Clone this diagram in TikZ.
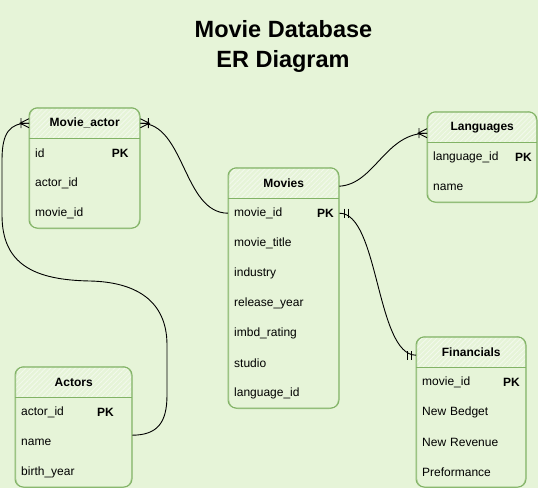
\documentclass[tikz,border=0pt]{standalone}
\usepackage{fontspec}
\setmainfont{Liberation Sans}
\usetikzlibrary{patterns.meta,calc}
\definecolor{bg}{RGB}{230,244,216}
\definecolor{grn}{HTML}{82B366}
\definecolor{hatch}{RGB}{243,249,237}
\tikzset{
 hdr/.style={minimum height=30pt, inner sep=0pt, anchor=north west, font=\fontsize{12}{14}\selectfont\bfseries},
 erow/.style={text width=#1, inner xsep=6pt, inner ysep=0pt, minimum height=30pt, align=left, anchor=north west, font=\fontsize{12}{14}\selectfont},
 pk/.style={anchor=west, inner sep=0pt, font=\fontsize{12}{14}\selectfont\bfseries},
 ttl/.style={anchor=base, inner sep=0pt, font=\fontsize{23.5}{28}\selectfont\bfseries},
 tframe/.style={draw=grn, line width=1pt, rounded corners=8pt},
 tframeb/.style={draw=grn, line width=0.6pt, rounded corners=9pt, opacity=0.75},
 hfill/.style={pattern={Lines[angle=45,distance=3.5pt,line width=0.8pt]}, pattern color=hatch},
 hsep/.style={draw=grn, line width=1pt},
 conn/.style={draw=black, line width=0.9pt},
 cfoot/.pic={\draw[line width=0.9pt] (0,-4.5) -- (9,0) -- (0,4.5) (0,0) -- (9,0) (8,-5) -- (8,5);},
 mone/.pic={\draw[line width=0.9pt] (5,-4.5) -- (5,4.5) (9,-4.5) -- (9,4.5);},
}
\begin{document}
\begin{tikzpicture}[x=1pt,y=-1pt]
\useasboundingbox (0,0) rectangle (538,488);
\fill[bg] (0,0) rectangle (538,488);

% title
\node[ttl] (t1) at (283.5,37.7) {Movie Database};
\node[ttl] (t2) at (283,67.7) {ER Diagram};

% ---------- Movie_actor ----------
\begin{scope}
\clip[rounded corners=8pt] (29,108) rectangle (140,228);
\fill[hfill] (29,108) rectangle (140,138);
\end{scope}
\draw[tframe] (29,108) rectangle (140,228);
\draw[tframeb] (29.8,107.3) rectangle (139.3,228.7);
\draw[hsep] (29,138) -- (140,138);
\node[hdr, minimum width=111pt] (mah) at (29,108) {Movie\_actor};
\node[erow=99pt] (ma1) at (29,138) {id};
\node[erow=99pt] (ma2) at (29,168) {actor\_id};
\node[erow=99pt] (ma3) at (29,198) {movie\_id};
\node[pk] (mapk) at (111.7,153) {PK};

% ---------- Movies ----------
\begin{scope}
\clip[rounded corners=8pt] (228,168) rectangle (339,408);
\fill[hfill] (228,168) rectangle (339,198);
\end{scope}
\draw[tframe] (228,168) rectangle (339,408);
\draw[tframeb] (228.8,167.3) rectangle (338.3,408.7);
\draw[hsep] (228,198) -- (339,198);
\node[hdr, minimum width=111pt] (mvh) at (228,168) {Movies};
\node[erow=99pt] (mv1) at (228,198) {movie\_id};
\node[erow=99pt] (mv2) at (228,228) {movie\_title};
\node[erow=99pt] (mv3) at (228,258) {industry};
\node[erow=99pt] (mv4) at (228,288) {release\_year};
\node[erow=99pt] (mv5) at (228,318) {imbd\_rating};
\node[erow=99pt] (mv6) at (228,348) {studio};
\node[erow=99pt] (mv7) at (228,378) {language\_id};
\node[pk] (mvpk) at (317,213) {PK};

% ---------- Languages ----------
\begin{scope}
\clip[rounded corners=8pt] (427,112) rectangle (537,202);
\fill[hfill] (427,112) rectangle (537,142);
\end{scope}
\draw[tframe] (427,112) rectangle (537,202);
\draw[tframeb] (427.8,111.3) rectangle (536.3,202.7);
\draw[hsep] (427,142) -- (537,142);
\node[hdr, minimum width=110pt] (lah) at (427,112) {Languages};
\node[erow=98pt] (la1) at (427,142) {language\_id};
\node[erow=98pt] (la2) at (427,172) {name};
\node[pk] (lapk) at (515,157) {PK};

% ---------- Financials ----------
\begin{scope}
\clip[rounded corners=8pt] (416,337) rectangle (526,487);
\fill[hfill] (416,337) rectangle (526,367);
\end{scope}
\draw[tframe] (416,337) rectangle (526,487);
\draw[tframeb] (416.8,336.3) rectangle (525.3,487.5);
\draw[hsep] (416,367) -- (526,367);
\node[hdr, minimum width=110pt] (fih) at (416,337) {Financials};
\node[erow=98pt] (fi1) at (416,367) {movie\_id};
\node[erow=98pt] (fi2) at (416,397) {New Bedget};
\node[erow=98pt] (fi3) at (416,427) {New Revenue};
\node[erow=98pt] (fi4) at (416,457) {Preformance};
\node[pk] (fipk) at (503,382) {PK};

% ---------- Actors ----------
\begin{scope}
\clip[rounded corners=8pt] (15,367) rectangle (132,487);
\fill[hfill] (15,367) rectangle (132,397);
\end{scope}
\draw[tframe] (15,367) rectangle (132,487);
\draw[tframeb] (15.8,366.3) rectangle (131.3,487.5);
\draw[hsep] (15,397) -- (132,397);
\node[hdr, minimum width=117pt] (ach) at (15,367) {Actors};
\node[erow=105pt] (ac1) at (15,397) {actor\_id};
\node[erow=105pt] (ac2) at (15,427) {name};
\node[erow=105pt] (ac3) at (15,457) {birth\_year};
\node[pk] (acpk) at (97,412) {PK};

% ---------- connectors ----------
\draw[conn] (mv1.west) .. controls (183,213) and (185,123) .. (mah.east);
\draw[conn] ($(ac2.east)+(0,-7)$) .. controls (158,435) and (167,422) .. (167,395)
  -- (167,345) .. controls (167,300) and (135,282) .. (90,281)
  .. controls (35,280) and (2,265) .. (2,215)
  -- (2,160) .. controls (2,132) and (10,123) .. (mah.west);
\draw[conn] ($(mvh.east)+(0,3)$) .. controls (375,184) and (385,133) .. ($(lah.west)+(0,6)$);
\draw[conn] (mv1.east) .. controls (379,213) and (376,355) .. ($(fih.west)+(0,3)$);

\pic at (mah.east) {cfoot};
\pic[rotate=180] at (mah.west) {cfoot};
\pic[rotate=180] at ($(lah.west)+(0,6)$) {cfoot};
\pic at (mv1.east) {mone};
\pic[rotate=180] at ($(fih.west)+(0,3)$) {mone};
\end{tikzpicture}
\end{document}
